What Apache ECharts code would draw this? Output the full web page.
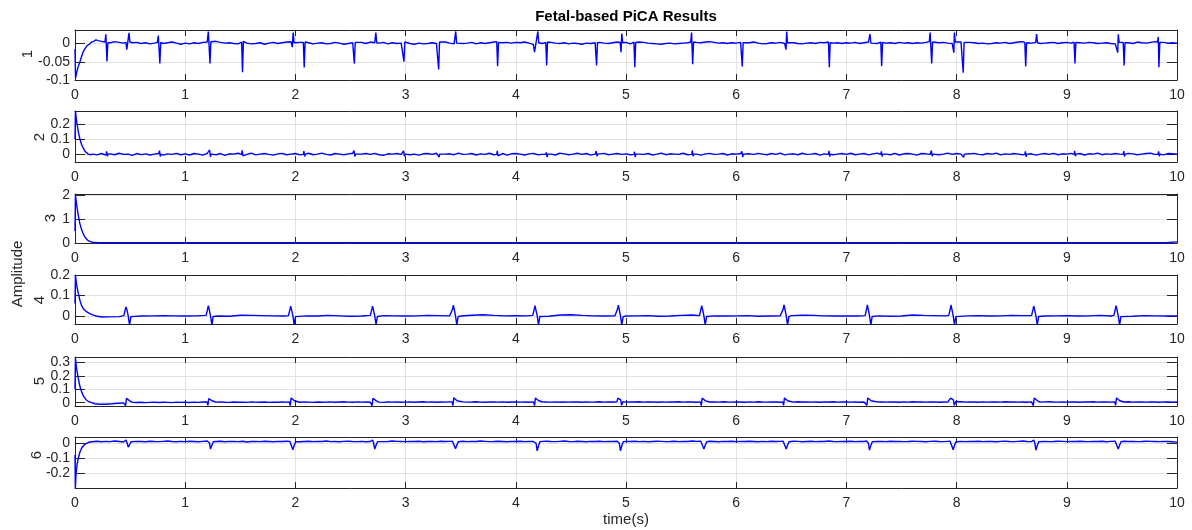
<!DOCTYPE html>
<html><head><meta charset="utf-8">
<script src="https://cdn.jsdelivr.net/npm/echarts@6/dist/echarts.min.js"></script>
<style>html,body{margin:0;padding:0;background:#fff}#c{width:1192px;height:530px}</style>
</head><body><div id="c"></div><script>
// ---------------- DATA ----------------
const chartTitle = 'Fetal-based PiCA Results';
const xLabel = 'time(s)';
const yLabel = 'Amplitude';
const panelNames = ['1', '2', '3', '4', '5', '6'];
const xTicks = [0, 1, 2, 3, 4, 5, 6, 7, 8, 9, 10];
const yMins = [-0.1, -0.053, -0.006, -0.04, -0.025, -0.3];
const yMaxs = [0.037, 0.29, 2.06, 0.2, 0.34, 0.04];
const yTicks1 = [-0.1, -0.05, 0];
const yTicks2 = [0, 0.1, 0.2];
const yTicks3 = [0, 1, 2];
const yTicks4 = [0, 0.1, 0.2];
const yTicks5 = [0, 0.1, 0.2, 0.3];
const yTicks6 = [-0.2, -0.1, 0];

// baseline samples (thousandths), every 0.04 s from 0 to 10 s
const s1Base = [
0,0,0,0,0,0,6,4,2,5,3,1,4,2,3,0,2,-1,1,3,0,2,4,1,-2,
1,-1,2,0,3,-2,4,6,3,1,2,0,-1,2,1,-1,0,2,-2,1,3,0,2,4,5,
1,3,0,2,-1,1,2,-1,0,3,1,-2,0,2,1,3,0,4,2,1,3,-1,2,0,1,
2,0,-2,1,-1,0,2,0,3,4,1,-1,2,0,1,3,-1,2,0,2,4,1,2,3,1,
3,2,4,1,-3,-5,0,2,3,1,0,2,-1,1,0,-2,1,0,2,3,1,0,2,4,1,
3,-1,2,4,3,1,0,-1,-2,0,1,-1,0,1,2,1,3,2,4,5,3,1,2,0,2,
1,3,0,2,4,1,-1,0,2,1,3,0,1,2,0,-1,1,2,0,3,2,4,1,2,0,
2,1,3,0,2,4,1,0,-1,1,2,0,3,1,2,0,2,1,3,5,4,2,3,1,0,
2,4,1,3,2,0,1,-1,0,2,1,3,0,2,4,5,2,1,3,0,1,2,3,0,2,
3,1,0,2,1,3,2,0,1,2,0,-1,1,3,2,0,4,2,1,3,5,2,3,1,2,
1];
const s1Start = [[0,-0.015],[0.005,-0.095],[0.015,-0.08],[0.03,-0.062],[0.045,-0.05],[0.06,-0.035],[0.075,-0.022],[0.09,-0.015],[0.11,-0.006],[0.13,-0.002],[0.15,0.004],[0.17,0.006],[0.19,0.01],[0.21,0.008]];
const s1Spikes = [
[[0.272,0.004],[0.28,0.025],[0.29,-0.049],[0.298,0.002]],
[[0.462,0.003],[0.47,-0.017],[0.49,0.029],[0.498,0.004]],
[[0.748,0.003],[0.756,0.022],[0.77,-0.055],[0.778,0.003]],
[[1.2,0.004],[1.21,0.033],[1.225,-0.055],[1.233,0.005]],
[[1.512,0.004],[1.52,-0.079],[1.528,0.006]],
[[1.965,0.004],[1.972,-0.01],[1.98,0.03],[1.988,0.002]],
[[2.072,0.003],[2.08,-0.066],[2.088,0.004]],
[[2.527,0.002],[2.535,-0.055],[2.543,0.003]],
[[2.722,0.004],[2.73,0.03],[2.738,0.002]],
[[2.977,0.003],[2.985,-0.05],[2.993,0.004]],
[[3.292,0.002],[3.3,-0.071],[3.308,0.004]],
[[3.447,0.003],[3.455,0.033],[3.463,0.001]],
[[3.827,0.005],[3.835,-0.062],[3.843,0.003]],
[[4.162,0.002],[4.17,-0.024],[4.2,0.033],[4.208,0.002]],
[[4.272,0.003],[4.28,-0.06],[4.288,0.004]],
[[4.725,0.004],[4.733,-0.06],[4.741,0.002]],
[[4.947,0.003],[4.955,-0.024],[4.962,0.027],[4.97,0.002]],
[[5.072,0.004],[5.08,-0.065],[5.088,0.003]],
[[5.587,0.004],[5.595,0.03],[5.605,-0.057],[5.613,0.004]],
[[6.047,0.003],[6.055,-0.063],[6.063,0.002]],
[[6.445,0.003],[6.452,-0.017],[6.458,0.033],[6.466,0.002]],
[[6.837,0.004],[6.845,-0.065],[6.853,0.002]],
[[7.206,0.003],[7.214,0.026],[7.222,0.001]],
[[7.312,0.004],[7.32,-0.062],[7.328,0.003]],
[[7.752,0.005],[7.76,0.03],[7.774,-0.055],[7.782,0.004]],
[[7.968,0.004],[7.975,-0.025],[7.98,0.03],[7.988,0.004]],
[[8.052,0.004],[8.06,-0.08],[8.068,0.003]],
[[8.619,0.003],[8.627,-0.063],[8.635,0.002]],
[[8.718,0.003],[8.726,0.026],[8.734,0.002]],
[[9.066,0.004],[9.074,-0.055],[9.082,0.003]],
[[9.455,0.004],[9.462,-0.025],[9.467,0.025],[9.475,0.003]],
[[9.512,0.003],[9.52,-0.06],[9.528,0.002]],
[[9.822,0.004],[9.83,0.018],[9.836,-0.065],[9.844,0.003]]
];

const s2Base = [
0,0,0,0,0,-5,4,-7,2,-4,6,-2,0,-8,4,-3,2,-6,0,4,-7,2,-2,5,-4,
2,-6,4,0,-7,5,-2,-4,4,-8,2,0,6,-4,-2,7,-5,0,4,-2,-7,2,5,-4,0,
4,-5,-2,6,-4,0,7,-2,-6,4,0,-4,2,6,-7,0,4,-2,5,-4,-8,2,0,4,-2,
5,-4,0,-7,2,4,-2,6,-5,0,2,-4,7,-2,0,4,-6,2,-2,6,-4,0,4,-7,2,
4,0,-6,2,5,-4,-2,4,0,-6,7,2,-4,0,6,-2,4,-7,0,2,5,-4,0,4,-2,
2,-4,6,0,-2,4,-6,0,7,-4,2,0,-2,6,-4,4,0,-7,2,5,-2,0,4,-6,2,
0,4,-6,2,-2,5,0,-4,4,-2,7,-5,0,2,-4,6,-2,0,4,-7,2,5,-4,0,4,
-2,6,-4,0,4,-5,2,7,-2,0,-4,5,-6,2,4,0,-7,4,2,-2,6,-4,0,7,-2,
4,0,-6,2,5,-2,-4,4,0,7,-5,2,-2,4,0,-4,6,2,-7,0,4,-2,5,-4,2,
0,5,-2,4,-6,2,0,7,-4,2,-2,4,0,-6,5,2,-4,0,4,7,-2,2,-5,4,2,
0];
const s2Start = [[0,0.1],[0.004,0.29],[0.015,0.22],[0.03,0.15],[0.045,0.1],[0.06,0.065],[0.075,0.04],[0.09,0.02],[0.105,0.008],[0.12,0.0],[0.14,-0.004]];
const s2Spikes = [
[[0.282,-0.002],[0.287,0.018],[0.294,-0.014],[0.3,0.0]],
[[0.762,-0.002],[0.767,0.024],[0.774,-0.016],[0.78,0.0]],
[[1.217,-0.002],[1.222,0.028],[1.229,-0.018],[1.235,0.0]],
[[1.512,-0.002],[1.517,0.026],[1.524,-0.012],[1.53,0.0]],
[[2.072,-0.002],[2.077,0.02],[2.084,-0.016],[2.09,0.0]],
[[2.527,-0.002],[2.532,0.024],[2.539,-0.016],[2.545,0.0]],
[[2.977,-0.002],[2.982,0.022],[2.989,-0.014],[2.995,0.0]],
[[3.292,-0.002],[3.297,0.01],[3.304,-0.02],[3.31,0.0]],
[[3.827,-0.002],[3.832,0.022],[3.839,-0.012],[3.845,0.0]],
[[4.272,-0.002],[4.277,0.012],[4.284,-0.02],[4.29,0.0]],
[[4.725,-0.002],[4.73,0.02],[4.737,-0.014],[4.743,0.0]],
[[5.072,-0.002],[5.077,0.016],[5.084,-0.02],[5.09,0.0]],
[[5.597,-0.002],[5.602,0.026],[5.609,-0.014],[5.615,0.0]],
[[6.047,-0.002],[6.052,0.018],[6.059,-0.02],[6.065,0.0]],
[[6.837,-0.002],[6.842,0.022],[6.849,-0.016],[6.855,0.0]],
[[7.312,-0.002],[7.317,0.018],[7.324,-0.016],[7.33,0.0]],
[[7.766,-0.002],[7.771,0.024],[7.778,-0.014],[7.784,0.0]],
[[8.052,-0.002],[8.057,0.012],[8.064,-0.022],[8.07,0.0]],
[[8.619,-0.002],[8.624,0.018],[8.631,-0.018],[8.637,0.0]],
[[9.066,-0.002],[9.071,0.022],[9.078,-0.014],[9.084,0.0]],
[[9.512,-0.002],[9.517,0.02],[9.524,-0.016],[9.53,0.0]],
[[9.828,-0.002],[9.833,0.018],[9.84,-0.014],[9.846,0.0]]
];

// every 0.1 s, thousandths
const s3Base = [
0,0,0,4,6,5,7,6,8,5,
6,7,5,8,6,7,9,6,5,7,
8,6,7,5,6,8,7,6,5,7,
6,8,7,5,6,7,8,6,7,5,
7,6,8,7,5,6,7,8,6,7,
6,5,7,8,6,7,5,6,8,7,
5,7,6,8,7,6,5,7,6,8,
7,6,5,7,8,6,7,5,6,7,
8,6,7,5,6,8,7,6,5,7,
6,8,7,6,5,7,6,8,7,6,
40];
const s3Start = [[0,0.5],[0.004,2.0],[0.015,1.6],[0.03,1.15],[0.045,0.8],[0.06,0.55],[0.08,0.33],[0.1,0.18],[0.12,0.09],[0.15,0.035],[0.18,0.012],[0.22,0.004]];

// every 0.1 s, thousandths
const s4Base = [
0,0,0,0,-4,-3,-1,0,1,0,
-1,0,1,-1,-2,3,2,1,0,-1,
1,0,-1,2,0,-2,-1,0,1,0,
-1,0,2,1,0,-1,3,5,2,0,
1,0,-1,-2,4,5,2,0,-1,0,
-1,0,1,-2,-1,2,4,2,0,-1,
0,1,-2,-1,0,1,3,2,0,-1,
0,-1,1,0,-2,-1,4,2,1,0,
-1,0,1,-1,0,2,1,0,-1,0,
1,-1,0,2,-1,0,-2,1,0,-1,
0];
const s4Start = [[0,0.06],[0.004,0.2],[0.015,0.15],[0.03,0.11],[0.045,0.075],[0.06,0.05],[0.08,0.032],[0.1,0.022],[0.13,0.012],[0.16,0.005],[0.2,-0.002],[0.25,-0.006],[0.3,-0.005]];
const s4Spikes = [
[[0.443,0.001],[0.456,0.03],[0.463,0.044],[0.471,0.03],[0.483,0],[0.495,-0.045],[0.507,-0.004]],
[[1.19,0.002],[1.203,0.032],[1.21,0.05],[1.218,0.032],[1.23,0],[1.242,-0.045],[1.254,-0.003]],
[[1.937,0.001],[1.95,0.03],[1.957,0.047],[1.965,0.03],[1.977,0.001],[1.989,-0.045],[2.001,-0.004]],
[[2.68,0.002],[2.693,0.03],[2.7,0.047],[2.708,0.03],[2.72,0],[2.732,-0.042],[2.744,-0.003]],
[[3.413,0.001],[3.426,0.033],[3.433,0.052],[3.441,0.033],[3.453,0],[3.465,-0.045],[3.477,-0.004]],
[[4.154,0.002],[4.167,0.032],[4.174,0.05],[4.182,0.03],[4.194,0.001],[4.206,-0.045],[4.218,-0.003]],
[[4.91,0.002],[4.923,0.033],[4.93,0.052],[4.938,0.033],[4.95,0],[4.962,-0.045],[4.974,-0.004]],
[[5.667,0.001],[5.68,0.032],[5.687,0.05],[5.695,0.031],[5.707,0],[5.719,-0.045],[5.731,-0.003]],
[[6.414,0.002],[6.427,0.034],[6.434,0.054],[6.442,0.034],[6.454,0],[6.466,-0.045],[6.478,-0.004]],
[[7.17,0.001],[7.183,0.034],[7.19,0.054],[7.198,0.033],[7.21,0],[7.222,-0.045],[7.234,-0.003]],
[[7.929,0.002],[7.942,0.033],[7.949,0.053],[7.957,0.033],[7.969,0.001],[7.981,-0.045],[7.993,-0.004]],
[[8.68,0.001],[8.693,0.03],[8.7,0.048],[8.708,0.03],[8.72,0],[8.732,-0.045],[8.744,-0.003]],
[[9.427,0.002],[9.44,0.032],[9.447,0.05],[9.455,0.031],[9.467,0],[9.479,-0.045],[9.491,-0.004]]
];

// every 0.04 s, thousandths
const s5Base = [
0,0,0,0,0,0,0,0,0,-6,-4,-2,0,2,1,3,0,2,4,1,3,2,0,4,2,
3,1,4,2,5,3,2,4,6,3,2,5,3,4,2,6,4,3,5,2,4,3,6,4,3,
5,3,6,4,2,5,3,4,6,3,5,7,4,3,6,4,5,3,6,4,2,5,4,6,3,
4,6,3,5,7,4,6,3,5,4,6,5,3,6,4,5,7,4,3,6,5,4,6,3,5,
6,4,5,3,6,4,7,5,4,6,3,5,4,6,5,3,6,4,5,7,4,6,5,3,6,
4,6,5,7,4,5,6,3,5,4,6,5,7,4,6,5,3,6,4,5,6,4,7,5,4,
6,5,3,6,4,7,5,4,6,5,3,6,5,4,7,5,6,4,5,3,6,5,7,4,6,
5,4,6,3,5,7,4,6,5,4,6,5,3,6,4,7,5,6,4,5,6,3,5,4,6,
5,7,4,6,5,3,6,4,5,6,4,7,5,6,4,5,3,6,5,4,6,7,5,4,6,
4,6,5,3,6,5,7,4,6,5,4,6,3,5,7,4,6,5,4,6,5,3,6,5,4,
5];
const s5Start = [[0,0.1],[0.004,0.33],[0.015,0.25],[0.03,0.18],[0.045,0.12],[0.06,0.08],[0.08,0.045],[0.1,0.022],[0.12,0.01],[0.15,0.0],[0.18,-0.008],[0.22,-0.012],[0.28,-0.012],[0.34,-0.008]];
const s5Spikes = [
[[0.451,0.004],[0.459,-0.022],[0.467,0.032],[0.485,0.028],[0.497,0.013],[0.513,0.006]],
[[1.198,0.006],[1.206,-0.02],[1.214,0.03],[1.232,0.027],[1.244,0.014],[1.26,0.008]],
[[1.945,0.006],[1.953,-0.022],[1.961,0.035],[1.979,0.03],[1.991,0.014],[2.007,0.007]],
[[2.688,0.005],[2.696,-0.022],[2.704,0.033],[2.722,0.029],[2.734,0.013],[2.75,0.007]],
[[3.421,0.006],[3.429,-0.022],[3.437,0.036],[3.455,0.031],[3.467,0.014],[3.483,0.008]],
[[4.162,0.006],[4.17,-0.022],[4.178,0.034],[4.196,0.03],[4.208,0.014],[4.224,0.007]],
[[4.918,0.007],[4.926,0.034],[4.934,0.036],[4.952,0.02],[4.96,-0.02],[4.974,0.008]],
[[5.675,0.006],[5.683,-0.022],[5.691,0.034],[5.709,0.03],[5.721,0.013],[5.737,0.007]],
[[6.422,0.006],[6.43,-0.02],[6.438,0.035],[6.456,0.03],[6.468,0.014],[6.484,0.008]],
[[7.178,0.006],[7.186,-0.02],[7.194,0.035],[7.212,0.03],[7.224,0.014],[7.24,0.008]],
[[7.937,0.007],[7.945,0.034],[7.953,0.036],[7.971,0.02],[7.979,-0.02],[7.993,0.008]],
[[8.688,0.006],[8.696,-0.022],[8.704,0.034],[8.722,0.03],[8.734,0.014],[8.75,0.007]],
[[9.435,0.006],[9.443,-0.02],[9.451,0.035],[9.469,0.03],[9.481,0.014],[9.497,0.008]]
];

// every 0.04 s, thousandths
const s6Base = [
0,0,0,0,10,12,8,11,9,13,10,7,12,9,11,10,8,12,10,9,11,13,10,8,11,
9,12,10,8,11,13,9,10,12,8,11,10,9,12,7,10,11,9,12,10,8,11,10,12,9,
11,8,10,12,9,11,10,13,9,10,8,11,12,10,9,11,8,10,12,11,9,10,13,11,10,
9,11,10,12,8,10,11,9,12,10,11,8,10,12,9,11,10,13,11,9,10,12,10,8,11,
10,12,9,11,10,8,11,12,10,9,11,13,10,9,12,10,8,11,10,12,9,11,10,12,9,
11,10,12,9,11,8,10,12,11,9,10,12,9,11,10,13,11,9,10,12,10,8,11,10,12,
9,11,10,12,10,8,11,9,12,10,11,9,10,12,11,8,10,12,9,11,10,13,10,9,11,
10,12,9,11,10,12,8,10,11,9,12,10,11,9,10,12,11,10,8,11,12,10,9,11,10,
12,10,9,11,10,12,9,11,10,8,11,12,10,9,11,13,10,9,12,10,11,9,10,12,11,
9,11,10,12,10,9,11,10,12,8,11,10,9,12,10,11,9,10,12,11,10,9,11,10,8,
6];
const s6Start = [[0,-0.08],[0.003,-0.3],[0.01,-0.2],[0.02,-0.14],[0.03,-0.1],[0.045,-0.06],[0.06,-0.035],[0.08,-0.015],[0.1,-0.004],[0.12,0.003],[0.15,0.008]];
const s6Spikes = [
[[0.455,0.012],[0.463,0.02],[0.473,0],[0.483,-0.027],[0.495,-0.012],[0.508,0.008]],
[[1.202,0.012],[1.21,0.022],[1.22,0],[1.23,-0.04],[1.242,-0.015],[1.255,0.008]],
[[1.949,0.011],[1.957,0.018],[1.967,-0.002],[1.977,-0.045],[1.989,-0.016],[2.002,0.008]],
[[2.692,0.012],[2.7,0.02],[2.71,0],[2.72,-0.04],[2.732,-0.015],[2.745,0.009]],
[[3.425,0.012],[3.433,0.02],[3.443,0],[3.453,-0.038],[3.465,-0.014],[3.478,0.008]],
[[4.166,0.012],[4.174,0.02],[4.184,-0.002],[4.194,-0.052],[4.206,-0.018],[4.219,0.008]],
[[4.922,0.013],[4.93,0.022],[4.94,-0.002],[4.95,-0.052],[4.962,-0.018],[4.975,0.009]],
[[5.679,0.012],[5.687,0.02],[5.697,0],[5.707,-0.04],[5.719,-0.015],[5.732,0.008]],
[[6.426,0.012],[6.434,0.02],[6.444,0],[6.454,-0.04],[6.466,-0.015],[6.479,0.008]],
[[7.182,0.013],[7.19,0.024],[7.2,-0.002],[7.21,-0.047],[7.222,-0.016],[7.235,0.008]],
[[7.941,0.012],[7.949,0.02],[7.959,0],[7.969,-0.045],[7.981,-0.015],[7.994,0.008]],
[[8.692,0.012],[8.7,0.02],[8.71,-0.002],[8.72,-0.048],[8.732,-0.016],[8.745,0.008]],
[[9.439,0.012],[9.447,0.02],[9.457,0],[9.467,-0.04],[9.479,-0.015],[9.492,0.008]]
];

// ---------------- BUILD ----------------
function buildSeries(base, step, unit, start, spikes) {
  const tEnd = start[start.length - 1][0];
  const pts = start.map(p => [p[0], p[1]]);
  base.forEach((v, i) => {
    const t = i * step;
    if (t <= tEnd + 1e-9) return;
    for (const ev of spikes) {
      if (t >= ev[0][0] - 1e-9 && t <= ev[ev.length - 1][0] + 1e-9) return;
    }
    pts.push([t, v * unit]);
  });
  spikes.forEach(ev => ev.forEach(p => pts.push([p[0], p[1]])));
  pts.sort((a, b) => a[0] - b[0]);
  return pts;
}

const seriesData = [
  buildSeries(s1Base, 0.04, 0.001, s1Start, s1Spikes),
  buildSeries(s2Base, 0.04, 0.001, s2Start, s2Spikes),
  buildSeries(s3Base, 0.1, 0.001, s3Start, []),
  buildSeries(s4Base, 0.1, 0.001, s4Start, s4Spikes),
  buildSeries(s5Base, 0.04, 0.001, s5Start, s5Spikes),
  buildSeries(s6Base, 0.04, 0.001, s6Start, s6Spikes)
];
const yTickSets = [yTicks1, yTicks2, yTicks3, yTicks4, yTicks5, yTicks6];

const FONT = '"Liberation Sans", Arial, Helvetica, sans-serif';
const INK = '#262626';
const GRIDC = '#e2e2e2';
const gridTops = [30, 111, 194, 275, 357, 437];
const gridHeights = [50, 51, 49, 49, 49, 51];
const nameY = [54, 137, 218, 300, 381, 455];
const nameX = [28, 40, 51, 40, 40, 37];

const grids = [], xAxes = [], yAxes = [], series = [], graphics = [];
for (let i = 0; i < 6; i++) {
  grids.push({ left: 75, width: 1102, top: gridTops[i], height: gridHeights[i], containLabel: false });
  const axLine = { show: true, onZero: false, lineStyle: { color: INK, width: 1 } };
  xAxes.push({
    gridIndex: i, type: 'value', min: 0, max: 10, interval: 1, position: 'bottom',
    axisLine: axLine,
    axisTick: { show: true, inside: true, length: 6, lineStyle: { color: INK } },
    axisLabel: { margin: 8, color: INK, fontSize: 14, fontFamily: FONT,
      customValues: xTicks, showMinLabel: true, showMaxLabel: true, hideOverlap: false },
    splitLine: { show: true, lineStyle: { color: GRIDC, width: 1 } }
  });
  xAxes.push({
    gridIndex: i, type: 'value', min: 0, max: 10, interval: 1, position: 'top',
    axisLine: axLine,
    axisTick: { show: true, inside: true, length: 6, lineStyle: { color: INK } },
    axisLabel: { show: false }, splitLine: { show: false }
  });
  const tk = yTickSets[i];
  const tkA = tk.filter((v, k) => k % 2 === 0);
  const tkB = tk.filter((v, k) => k % 2 === 1);
  const lab = { margin: 5, color: INK, fontSize: 14, fontFamily: FONT,
    showMinLabel: true, showMaxLabel: true, hideOverlap: false };
  // left axis: line, all ticks, split lines, even-index labels
  yAxes.push({
    gridIndex: i, type: 'value', min: yMins[i], max: yMaxs[i], position: 'left',
    axisLine: axLine,
    axisTick: { show: true, inside: true, length: 10, customValues: tk, lineStyle: { color: INK } },
    axisLabel: Object.assign({ customValues: tkA }, lab),
    splitLine: { show: true, lineStyle: { color: GRIDC, width: 1 } }
  });
  // left axis twin: odd-index labels only
  yAxes.push({
    gridIndex: i, type: 'value', min: yMins[i], max: yMaxs[i], position: 'left', offset: 0,
    axisLine: { show: false }, axisTick: { show: false, customValues: tkB },
    axisLabel: Object.assign({ customValues: tkB }, lab),
    splitLine: { show: false }
  });
  // right axis: line and ticks
  yAxes.push({
    gridIndex: i, type: 'value', min: yMins[i], max: yMaxs[i], position: 'right',
    axisLine: axLine,
    axisTick: { show: true, inside: true, length: 10, customValues: tk, lineStyle: { color: INK } },
    axisLabel: { show: false, customValues: tk }, splitLine: { show: false }
  });
  series.push({
    type: 'line', xAxisIndex: 2 * i, yAxisIndex: 3 * i, data: seriesData[i],
    showSymbol: false, symbol: 'none', sampling: null, animation: false,
    lineStyle: { color: '#0000ff', width: 1.4 }, z: 1
  });
  graphics.push({
    type: 'text', x: nameX[i], y: nameY[i], rotation: Math.PI / 2,
    style: { text: panelNames[i], fill: INK, fontSize: 15, fontFamily: FONT, align: 'center', verticalAlign: 'middle' }
  });
}
graphics.push({ type: 'text', x: 626, y: 17,
  style: { text: chartTitle, fill: '#000', fontSize: 15, fontWeight: 'bold', fontFamily: FONT, align: 'center', verticalAlign: 'middle' } });
graphics.push({ type: 'text', x: 18, y: 274, rotation: Math.PI / 2,
  style: { text: yLabel, fill: INK, fontSize: 15, fontFamily: FONT, align: 'center', verticalAlign: 'middle' } });
graphics.push({ type: 'text', x: 626, y: 520,
  style: { text: xLabel, fill: INK, fontSize: 15, fontFamily: FONT, align: 'center', verticalAlign: 'middle' } });

const chart = echarts.init(document.getElementById('c'), null, { renderer: 'canvas' });
chart.setOption({
  animation: false,
  backgroundColor: '#ffffff',
  grid: grids, xAxis: xAxes, yAxis: yAxes, series: series, graphic: graphics
});
</script></body></html>
